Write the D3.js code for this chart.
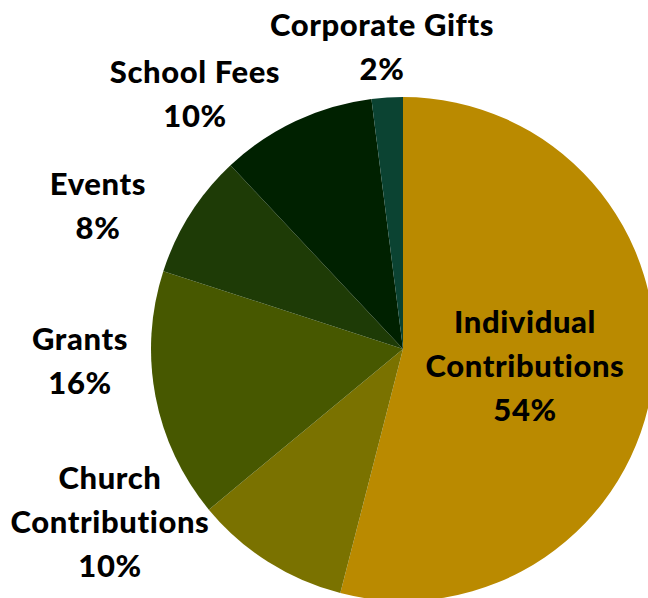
<!DOCTYPE html>
<html><head><meta charset="utf-8">
<script src="https://cdn.jsdelivr.net/npm/d3@7"></script>
<style>body{margin:0;background:#fff}svg{display:block}text{font-family:Lato,sans-serif;font-weight:900}</style>
</head><body>
<svg id="c" width="648" height="598"></svg>
<script>
const categories = ["Individual Contributions","Church Contributions","Grants","Events","School Fees","Corporate Gifts"];
const values = [54,10,16,8,10,2];
const colors = ["#BA8A00","#7A7200","#475800","#1E3B06","#002100","#0B4332"];
const labelLines = [["Individual","Contributions","54%"],["Church","Contributions","10%"],["Grants","16%"],["Events","8%"],["School Fees","10%"],["Corporate Gifts","2%"]];

const W=648,H=598, cx=403, cy=349, R=252;
const svg=d3.select("#c");
const g=svg.append("g").attr("transform",`translate(${cx},${cy})`);
const pie=d3.pie().sort(null).value(d=>d)(values);
const arc=d3.arc().innerRadius(0).outerRadius(R);
g.selectAll("path").data(pie).join("path").attr("d",arc).attr("fill",(d,i)=>colors[i]);

// label anchors (absolute page coords of first line center)
const labelAnchor=[[525,322],[110,478],[80,339],[98,184],[195,72],[382,25]];
const lh=44;
labelLines.forEach((lines,i)=>{
  const t=svg.append("text").attr("text-anchor","middle").attr("font-size",31).attr("letter-spacing",0.6).attr("fill","#000");
  lines.forEach((s,j)=>{
    t.append("tspan").attr("x",labelAnchor[i][0]).attr("y",labelAnchor[i][1]+j*lh).attr("dy","0.36em").text(s);
  });
});
</script>
</body></html>
